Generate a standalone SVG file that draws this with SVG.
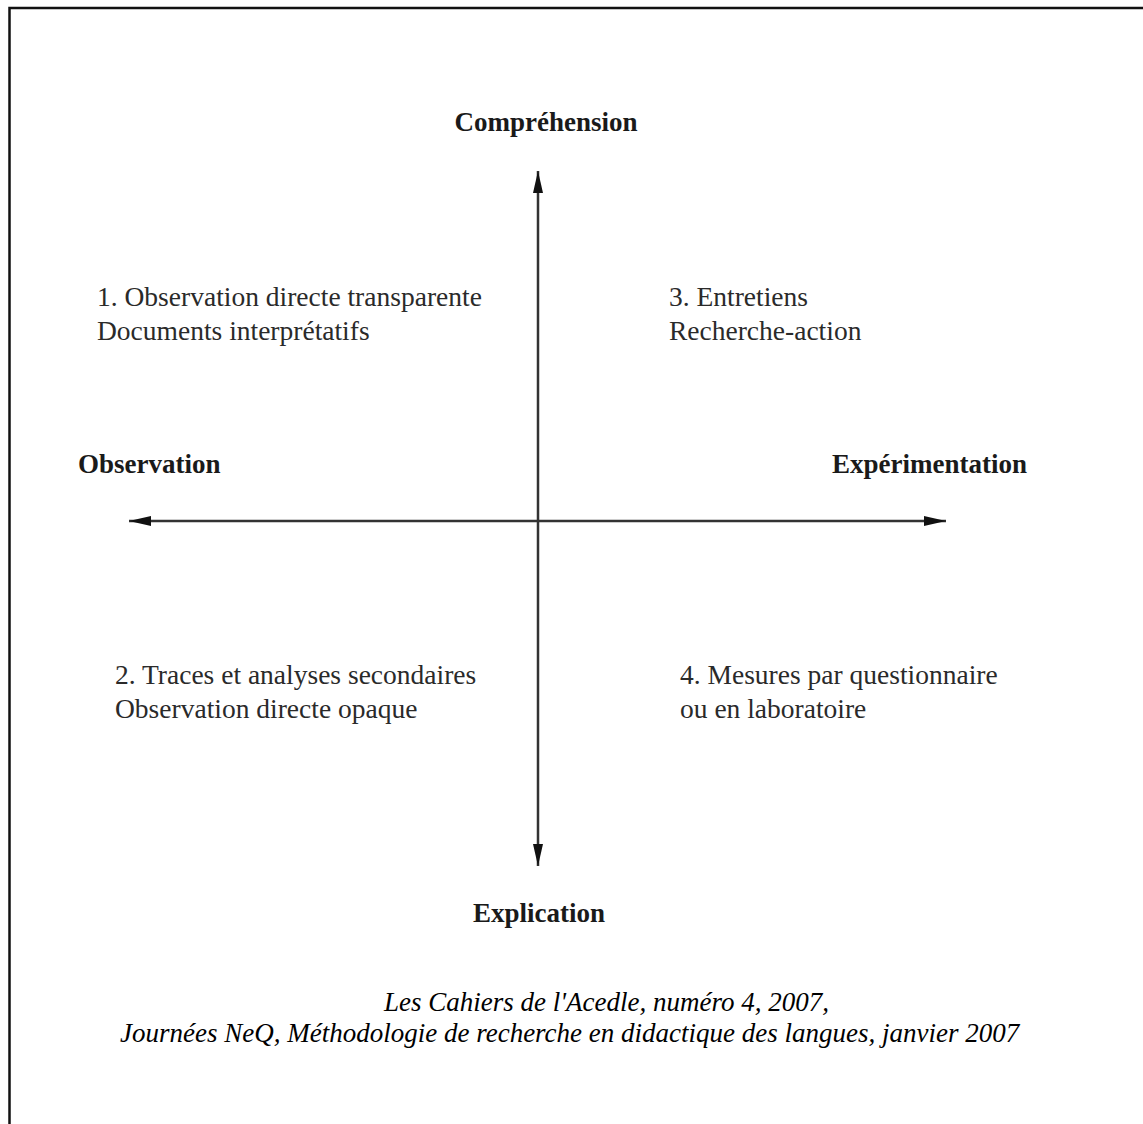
<svg xmlns="http://www.w3.org/2000/svg" width="1143" height="1124" viewBox="0 0 1143 1124">
<style>
.h{font-family:"Liberation Serif","Times New Roman",serif;font-weight:bold;font-size:27px;fill:#1a1a1a}
.t{font-family:"Liberation Serif","Times New Roman",serif;font-size:27.5px;fill:#2a2a2a}
.c{font-family:"Liberation Serif","Times New Roman",serif;font-style:italic;font-size:27px;fill:#000}
.ax{stroke:#333;stroke-width:2.5;fill:none}
</style>
<defs>
<marker id="ah" markerUnits="userSpaceOnUse" markerWidth="24" markerHeight="14" refX="22" refY="6" orient="auto-start-reverse" viewBox="0 0 24 12">
<path d="M0,1 L22,6 L0,11 Z" fill="#111"/>
</marker>
</defs>
<rect width="1143" height="1124" fill="#fff"/>
<path d="M9.5,1124 V8 H1143" stroke="#111" stroke-width="2.5" fill="none"/>
<g id="connectors">
<line class="ax" x1="538" y1="866" x2="538" y2="171" marker-start="url(#ah)" marker-end="url(#ah)"/>
<line class="ax" x1="129" y1="521" x2="946" y2="521" marker-start="url(#ah)" marker-end="url(#ah)"/>
</g>
<g id="comprehension"><text class="h" x="546" y="131" text-anchor="middle">Compréhension</text></g>
<g id="explication"><text class="h" x="539" y="922" text-anchor="middle">Explication</text></g>
<g id="observation"><text class="h" x="78" y="473">Observation</text></g>
<g id="experimentation"><text class="h" x="832" y="473">Expérimentation</text></g>
<g id="q1"><text class="t" x="97" y="306">1. Observation directe transparente</text><text class="t" x="97" y="340">Documents interprétatifs</text></g>
<g id="q3"><text class="t" x="669" y="306">3. Entretiens</text><text class="t" x="669" y="340">Recherche-action</text></g>
<g id="q2"><text class="t" x="115" y="684">2. Traces et analyses secondaires</text><text class="t" x="115" y="718">Observation directe opaque</text></g>
<g id="q4"><text class="t" x="680" y="684">4. Mesures par questionnaire</text><text class="t" x="680" y="718">ou en laboratoire</text></g>
<g id="caption"><text class="c" x="384" y="1011">Les Cahiers de l'Acedle, numéro 4, 2007,</text><text class="c" x="120" y="1042">Journées NeQ, Méthodologie de recherche en didactique des langues, janvier 2007</text></g>
</svg>
